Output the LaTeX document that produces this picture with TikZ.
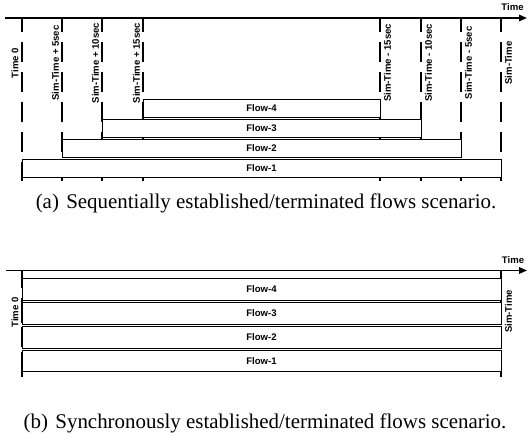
\documentclass[tikz,border=0pt]{standalone}
\usepackage{fontspec}
\setmainfont{Liberation Serif}
\newfontfamily\lsans{Liberation Sans}
\usetikzlibrary{arrows.meta}
\begin{document}
\begin{tikzpicture}[x=1bp,y=1bp,
  axisline/.style={line width=1.6bp,-{Triangle[length=8bp,width=6.5bp]}},
  vline/.style={line width=1.4bp,dash pattern=on 20bp off 10bp,dash phase=6bp},
  vlineb/.style={line width=1.4bp,dash pattern=on 17.5bp off 10bp on 25bp off 4bp on 20bp off 5bp on 25bp off 10bp},
  lbl/.style={font=\lsans\bfseries\fontsize{9.6}{11}\selectfont,inner sep=0pt},
  vlbl/.style={lbl,rotate=90},
  flowbox/.style={draw,line width=0.8bp,fill=white,anchor=north west,inner sep=0pt,outer sep=0pt,font=\lsans\bfseries\fontsize{9.6}{11}\selectfont},
  capt/.style={font=\fontsize{21}{25}\selectfont,inner sep=0pt,anchor=base}]
\useasboundingbox (0,0) rectangle (528,-438);

% ---------- (a) ----------
\coordinate (axAs) at (5,-18);
\coordinate (axAe) at (527,-18);
\draw[axisline] (axAs) -- (axAe);
\node[lbl] (timeA) at (512.5,-7.5) {Time};

\foreach \n/\x in {l0/22,l1/62,l2/102,l3/143,r3/380,r2/421,r1/461,r0/501}{
  \coordinate (\n t) at (\x,-18);
  \coordinate (\n b) at (\x,-181);
  \draw[vline] (\n t) -- (\n b);
}

\node[vlbl] (tl0) at (15,-63) {Time 0};
\node[vlbl] (tl1) at (55.5,-63) {Sim-Time + 5sec};
\node[vlbl] (tl2) at (95.5,-63) {Sim-Time + 10sec};
\node[vlbl] (tl3) at (136.5,-63) {Sim-Time + 15sec};
\node[vlbl] (tr3) at (387.5,-63) {Sim-Time - 15sec};
\node[vlbl] (tr2) at (428.5,-63) {Sim-Time - 10sec};
\node[vlbl] (tr1) at (468.5,-63) {Sim-Time - 5sec};
\node[vlbl] (tr0) at (508.5,-63) {Sim-Time};

\node[flowbox,minimum width=237bp,minimum height=18bp] (fa4) at (143,-99.3) {Flow-4};
\node[flowbox,minimum width=319bp,minimum height=18bp] (fa3) at (102,-119.3) {Flow-3};
\node[flowbox,minimum width=399bp,minimum height=18bp] (fa2) at (62,-139.3) {Flow-2};
\node[flowbox,minimum width=479bp,minimum height=18bp] (fa1) at (22,-159.3) {Flow-1};

\node[capt] (capA) at (266,-209) {(a)\hspace{0.35em}Sequentially established/terminated flows scenario.};

% ---------- (b) ----------
\coordinate (axBs) at (6,-270.5);
\coordinate (axBe) at (527,-270.5);
\draw[axisline] (axBs) -- (axBe);
\node[lbl] (timeB) at (513,-260) {Time};

\coordinate (bl t) at (22,-270.5);
\coordinate (bl b) at (22,-377);
\coordinate (br t) at (501,-270.5);
\coordinate (br b) at (501,-377);
\draw[vlineb] (bl t) -- (bl b);
\draw[vlineb] (br t) -- (br b);

\node[vlbl] (tb0) at (15,-312.5) {Time 0};
\node[vlbl] (tb1) at (508.5,-311.5) {Sim-Time};

\node[flowbox,minimum width=479bp,minimum height=21.7bp] (fb4) at (22,-278.3) {Flow-4};
\node[flowbox,minimum width=479bp,minimum height=21.7bp] (fb3) at (22,-302.2) {Flow-3};
\node[flowbox,minimum width=479bp,minimum height=21.7bp] (fb2) at (22,-326.2) {Flow-2};
\node[flowbox,minimum width=479bp,minimum height=21.7bp] (fb1) at (22,-350.1) {Flow-1};

\node[capt] (capB) at (265,-428) {(b)\hspace{0.35em}Synchronously established/terminated flows scenario.};
\end{tikzpicture}
\end{document}
